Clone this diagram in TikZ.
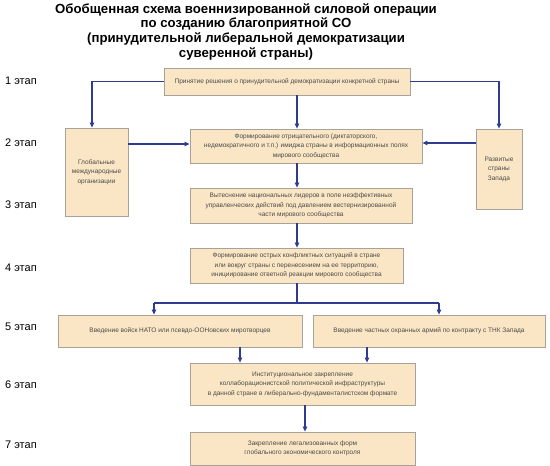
\documentclass[tikz,border=0pt]{standalone}
\usepackage{fontspec}
\setmainfont{Liberation Sans}
\usetikzlibrary{arrows.meta}
\definecolor{boxfill}{HTML}{FAE6C4}
\definecolor{boxline}{HTML}{A8A29A}
\definecolor{arrcol}{HTML}{2E3B8E}
\definecolor{boxtext}{HTML}{4A4A4A}
\begin{document}
\begin{tikzpicture}[x=1pt,y=-1pt,
  box/.style={draw=boxline, fill=boxfill, line width=0.8pt, inner sep=0pt, align=center,
    text=boxtext, font=\fontsize{6.5}{9.5}\selectfont},
  stagelbl/.style={anchor=west, font=\fontsize{11}{13}\selectfont, inner sep=0pt},
  conn/.style={draw=arrcol, line width=1.1pt},
  arr/.style={conn, -{Triangle[length=5pt,width=4.5pt]}}]
\useasboundingbox (0,0) rectangle (550,466);
% title
\node[font=\bfseries\fontsize{13.2}{14.7}\selectfont, align=center, anchor=north, inner sep=0pt] (title) at (246,3)
 {Обобщенная схема военнизированной силовой операции\\ по созданию благоприятной СО\\ (принудительной либеральной демократизации\\ суверенной страны)};
% stage labels
\node[stagelbl] (s1) at (5,81) {1 этап};
\node[stagelbl] (s2) at (5,143) {2 этап};
\node[stagelbl] (s3) at (5,205) {3 этап};
\node[stagelbl] (s4) at (5,268) {4 этап};
\node[stagelbl] (s5) at (5,327) {5 этап};
\node[stagelbl] (s6) at (5,385) {6 этап};
\node[stagelbl] (s7) at (5,445) {7 этап};
% boxes
\node[box, minimum width=246, minimum height=27] (b1) at (287,81.5)
 {Принятие решения о принудительной демократизации конкретной страны};
\node[box, minimum width=232, minimum height=34] (b2) at (306,146)
 {Формирование отрицательного (диктаторского,\\ недемократичного и т.п.) имиджа страны в информационных полях\\ мирового сообщества};
\node[box, minimum width=63, minimum height=88] (L) at (96.5,172)
 {Глобальные\\ международные\\ организации};
\node[box, minimum width=46, minimum height=80] (R) at (499,169)
 {Развитые\\ страны\\ Запада};
\node[box, minimum width=222, minimum height=35] (b3) at (301,205.5)
 {Вытеснение национальных лидеров в поле неэффективных\\ управленческих действий под давлением вестернизированной\\ части мирового сообщества};
\node[box, minimum width=213, minimum height=35] (b4) at (296.5,265.5)
 {Формирование острых конфликтных ситуаций в стране\\ или вокруг страны с перенесением на ее территорию,\\ инициирование ответной реакции мирового сообщества};
\node[box, minimum width=244, minimum height=32] (b5a) at (180,331)
 {Введение войск НАТО или псевдо-ООНовских миротворцев};
\node[box, minimum width=232, minimum height=32] (b5b) at (429,331)
 {Введение частных охранных армий по контракту с ТНК Запада};
\node[box, minimum width=225, minimum height=42] (b6) at (302.5,384)
 {Институциональное закрепление\\ коллаборационистской политической инфраструктуры\\ в данной стране в либерально-фундаменталистском формате};
\node[box, minimum width=225, minimum height=33] (b7) at (302.5,448.5)
 {Закрепление легализованных форм\\ глобального экономического контроля};
% helper coordinates
\coordinate (col) at (297,0);
\coordinate (la) at (154,303);
\coordinate (ra) at (439,303);
\coordinate (c5a) at (240,0);
\coordinate (c5b) at (367,0);
\coordinate (c6) at (305,0);
% connectors
\draw[arr] (b1.west) -| ([xshift=-4.5]L.north);
\draw[arr] (b1.east) -| (R.north);
\draw[arr] (b1.south -| col) -- (b2.north -| col);
\draw[arr] ([yshift=2]b2.west -| L.east) -- ([yshift=2]b2.west);
\draw[arr] ([yshift=3]b2.east -| R.west) -- ([yshift=3]b2.east);
\draw[arr] (b2.south -| col) -- (b3.north -| col);
\draw[arr] (b3.south -| col) -- (b4.north -| col);
\draw[conn] (b4.south -| col) -- (la -| col);
\draw[conn] (la) -- (ra);
\draw[arr] (la) -- (b5a.north -| la);
\draw[arr] (ra) -- (b5b.north -| ra);
\draw[arr] (b5a.south -| c5a) -- (b6.north -| c5a);
\draw[arr] (b5b.south -| c5b) -- (b6.north -| c5b);
\draw[arr] (b6.south -| c6) -- (b7.north -| c6);
\end{tikzpicture}
\end{document}
